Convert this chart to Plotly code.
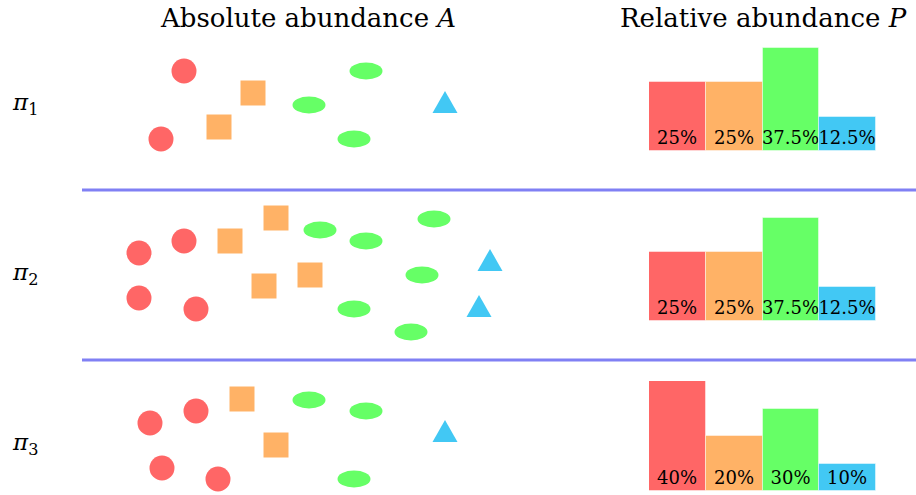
import plotly.graph_objects as go

# ---------------- data ----------------
row_labels = ["<i>π</i><sub>1</sub>", "<i>π</i><sub>2</sub>", "<i>π</i><sub>3</sub>"]
species = ["circle", "square", "ellipse", "triangle"]

# individual positions (pixel-like units of the drawing area) for each panel
circle_x = [[184, 161], [139, 184, 139, 196], [150, 196, 162, 218]]
circle_y = [[71, 139], [253, 241, 298, 309], [423, 411, 468, 479]]
square_x = [[253, 219], [230, 276, 264, 310], [242, 276]]
square_y = [[93, 127], [241, 218, 286, 275], [399, 445]]
ellipse_x = [[366, 309, 354], [320, 366, 434, 422, 354, 411], [309, 366, 354]]
ellipse_y = [[71, 105, 139], [230, 241, 219, 275, 309, 332], [400, 411, 479]]
tri_x = [[445], [490, 479], [445]]
tri_y = [[102], [260, 306], [431]]

shares = [[0.25, 0.25, 0.375, 0.125],
          [0.25, 0.25, 0.375, 0.125],
          [0.40, 0.20, 0.30, 0.10]]
share_labels = [["25%", "25%", "37.5%", "12.5%"],
                ["25%", "25%", "37.5%", "12.5%"],
                ["40%", "20%", "30%", "10%"]]

titles = ["Absolute abundance <i>A</i>", "Relative abundance <i>P</i>"]

# ---------------- style ----------------
W, H = 916, 495
RED, ORANGE, GREEN, BLUE = "#FF6666", "#FFB266", "#66FF66", "#42C8F4"
bar_colors = [RED, ORANGE, GREEN, BLUE]
SEP = "#8080F4"
FONT = "DejaVu Serif"
MARK = 25
ELL_W, ELL_H = 33, 17
TRI_W, TRI_H = 25, 22

panel_bottom = [151, 321, 491]     # baseline of bars (px)
px_per_unit = 275                  # px for 100 %
bar_x0, bar_x1 = 649, 876
sep_y = [190, 360]

fig = go.Figure()

for p in range(3):
    fig.add_trace(go.Scatter(x=circle_x[p], y=circle_y[p], mode="markers",
                             marker=dict(symbol="circle", size=MARK, color=RED, line=dict(width=0)),
                             hoverinfo="skip", showlegend=False))
    fig.add_trace(go.Scatter(x=square_x[p], y=square_y[p], mode="markers",
                             marker=dict(symbol="square", size=MARK, color=ORANGE, line=dict(width=0)),
                             hoverinfo="skip", showlegend=False))
    for cx, cy in zip(tri_x[p], tri_y[p]):
        fig.add_trace(go.Scatter(x=[cx - TRI_W / 2, cx + TRI_W / 2, cx, cx - TRI_W / 2],
                                 y=[cy + TRI_H / 2, cy + TRI_H / 2, cy - TRI_H / 2, cy + TRI_H / 2],
                                 mode="lines", fill="toself", fillcolor=BLUE,
                                 line=dict(width=0, color=BLUE),
                                 hoverinfo="skip", showlegend=False))
    for cx, cy in zip(ellipse_x[p], ellipse_y[p]):
        fig.add_shape(type="circle", xref="x", yref="y",
                      x0=cx - ELL_W / 2, x1=cx + ELL_W / 2,
                      y0=cy - ELL_H / 2, y1=cy + ELL_H / 2,
                      fillcolor=GREEN, line=dict(width=0))

for y in sep_y:
    fig.add_trace(go.Scatter(x=[82, W], y=[y, y], mode="lines",
                             line=dict(color=SEP, width=3),
                             hoverinfo="skip", showlegend=False))

for p in range(3):
    k = p + 2
    fig.add_trace(go.Bar(x=species, y=shares[p], text=share_labels[p],
                         textposition="inside", insidetextanchor="start", textangle=0,
                         textfont=dict(family=FONT, size=18, color="black"),
                         insidetextfont=dict(family=FONT, size=18, color="black"),
                         marker=dict(color=bar_colors, line=dict(width=1, color="rgba(255,255,255,0.45)")),
                         xaxis=f"x{k}", yaxis=f"y{k}", hoverinfo="skip", showlegend=False))
    b = panel_bottom[p]
    top = b - 0.4 * px_per_unit
    fig.update_layout(**{
        f"xaxis{k}": dict(domain=[bar_x0 / W, bar_x1 / W], visible=False, anchor=f"y{k}"),
        f"yaxis{k}": dict(domain=[1 - b / H, 1 - top / H], range=[0, 0.4], visible=False, anchor=f"x{k}"),
    })

annotations = [
    dict(text=titles[0], x=308, y=18, xref="x", yref="y", showarrow=False,
         font=dict(family=FONT, size=26, color="black")),
    dict(text=titles[1], x=763, y=18, xref="x", yref="y", showarrow=False,
         font=dict(family=FONT, size=26, color="black")),
]
for p, yy in enumerate([104, 274, 444]):
    annotations.append(dict(text=row_labels[p], x=25, y=yy, xref="x", yref="y", showarrow=False,
                            font=dict(family=FONT, size=23, color="black")))

fig.update_layout(
    width=W, height=H,
    margin=dict(l=0, r=0, t=0, b=0),
    paper_bgcolor="white", plot_bgcolor="rgba(0,0,0,0)",
    xaxis=dict(domain=[0, 1], range=[0, W], visible=False),
    yaxis=dict(domain=[0, 1], range=[H, 0], visible=False),
    bargap=0,
    uniformtext=dict(minsize=18, mode="show"),
    annotations=annotations,
    showlegend=False,
)

fig.write_html("out.html", config={"displayModeBar": False},
               post_script="document.body.style.margin='0';document.body.style.overflow='hidden';")
